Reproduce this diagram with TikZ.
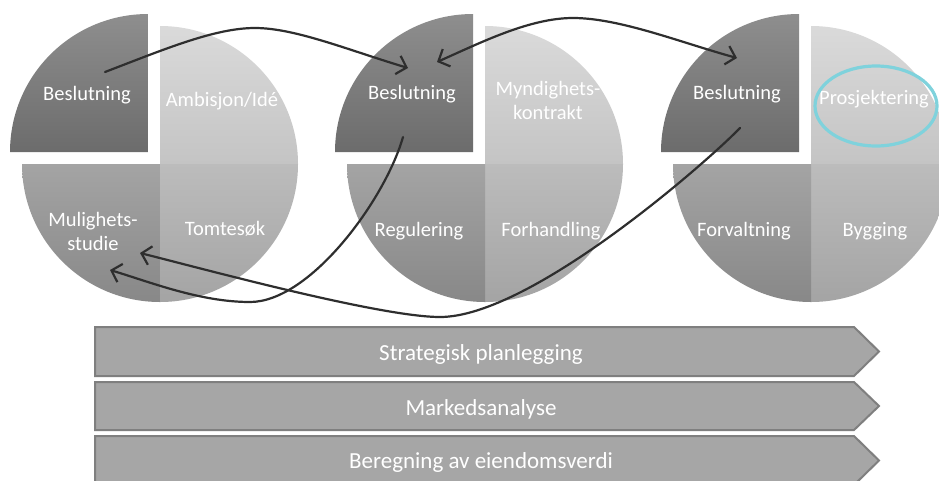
\documentclass[tikz,border=0pt]{standalone}
\usepackage{fontspec}
\setmainfont{Carlito}
\usetikzlibrary{arrows.meta,shapes.geometric}
\definecolor{tltop}{HTML}{8E8E8E}
\definecolor{tlbot}{HTML}{6C6C6C}
\definecolor{trtop}{HTML}{DADADA}
\definecolor{trbot}{HTML}{C4C4C4}
\definecolor{brtop}{HTML}{BCBCBC}
\definecolor{brbot}{HTML}{A4A4A4}
\definecolor{bltop}{HTML}{A4A4A4}
\definecolor{blbot}{HTML}{888888}
\definecolor{barfill}{HTML}{A6A6A6}
\definecolor{barline}{HTML}{7F7F7F}
\definecolor{ringcol}{HTML}{7FD2DC}
\definecolor{conncol}{HTML}{2E2E2E}
\begin{document}
\begin{tikzpicture}[x=1pt,y=-1pt,
  lbl/.style={text=white,font=\fontsize{20.5}{24}\selectfont,inner sep=0pt},
  bartxt/.style={text=white,font=\fontsize{23}{26}\selectfont,inner sep=0pt,anchor=base},
  barshape/.style={fill=barfill,draw=barline,line width=2pt,line join=miter},
  conn/.style={draw=conncol,line width=2.2pt,line cap=round},
  tip/.style={-{Straight Barb[length=9pt,width=19pt]}},
  tips/.style={{Straight Barb[length=9pt,width=19pt]}-{Straight Barb[length=9pt,width=19pt]}}]
\clip (0,0) rectangle (939,480);
\fill[white] (0,0) rectangle (939,480);
% pies
\foreach \cx in {160,485,811}{
  \shade[top color=trtop,bottom color=trbot] (\cx,164) -- (\cx,26) arc[start angle=90,end angle=0,radius=138pt] -- cycle;
  \shade[top color=brtop,bottom color=brbot] (\cx,164) -- (\cx+138,164) arc[start angle=0,end angle=-90,radius=138pt] -- cycle;
  \shade[top color=bltop,bottom color=blbot] (\cx,164) -- (\cx,302) arc[start angle=-90,end angle=-180,radius=138pt] -- cycle;
  \shade[top color=tltop,bottom color=tlbot] (\cx-12,152) -- (\cx-150,152) arc[start angle=180,end angle=90,radius=138pt] -- cycle;
}
% labels
\node[lbl,anchor=base] (b1) at (87,100) {Beslutning};
\node[lbl,anchor=base] (amb) at (222,106) {Ambisjon/Idé};
\node[lbl,align=center] (mul) at (93,231) {Mulighets-\\studie};
\node[lbl,anchor=base] (tomt) at (225,235) {Tomtesøk};
\node[lbl,anchor=base] (b2) at (412,99) {Beslutning};
\node[lbl,align=center] (myn) at (548,100) {Myndighets-\\kontrakt};
\node[lbl,anchor=base] (reg) at (419,236) {Regulering};
\node[lbl,anchor=base] (forh) at (551,236) {Forhandling};
\node[lbl,anchor=base] (b3) at (737,99) {Beslutning};
\node[lbl,anchor=base] (pros) at (874,104) {Prosjektering};
\node[lbl,anchor=base] (forv) at (744,236) {Forvaltning};
\node[lbl,anchor=base] (byg) at (875,236) {Bygging};
% ring
\node[draw=ringcol,line width=3.2pt,ellipse,minimum width=122pt,minimum height=80pt,inner sep=0pt] (ring) at (876,106) {};
% bars
\draw[barshape] (95,327) -- (854,327) -- (879,351.5) -- (854,376) -- (95,376) -- cycle;
\node[bartxt] (sp) at (481,360) {Strategisk planlegging};
\draw[barshape] (95,382) -- (854,382) -- (879,406) -- (854,430) -- (95,430) -- cycle;
\node[bartxt] (ma) at (481,415) {Markedsanalyse};
\draw[barshape] (95,436) -- (854,436) -- (879,460.5) -- (854,485) -- (95,485) -- cycle;
\node[bartxt] (be) at (481,468) {Beregning av eiendomsverdi};
% connectors
\coordinate (a1s) at (105,72);
\coordinate (a1p) at (255,28);
\coordinate (a1e) at (408,68);
\coordinate (a2s) at (437,62);
\coordinate (a2p) at (573,18);
\coordinate (a2e) at (737,58);
\coordinate (a3s) at (403,137);
\coordinate (a3p) at (250,302);
\coordinate (a3e) at (110,270);
\coordinate (a4s) at (740,128);
\coordinate (a4p) at (440,317);
\coordinate (a4e) at (140,253);
\draw[conn,tip] (a1s) .. controls (165,49) and (215,28) .. (a1p) .. controls (295,28) and (348,50) .. (a1e);
\draw[conn,tips] (a2s) .. controls (482,42) and (530,18) .. (a2p) .. controls (620,18) and (682,43) .. (a2e);
\draw[conn,tip] (a3s) .. controls (385,200) and (310,302) .. (a3p) .. controls (200,302) and (150,282) .. (a3e);
\draw[conn,tip] (a4s) .. controls (705,164) and (530,317) .. (a4p) .. controls (380,317) and (200,268) .. (a4e);
\end{tikzpicture}
\end{document}
